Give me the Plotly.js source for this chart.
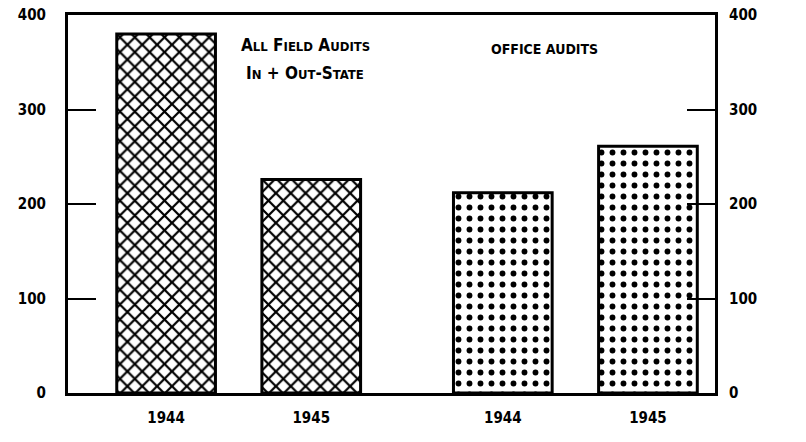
<!DOCTYPE html>
<html>
<head>
<meta charset="utf-8">
<script src="https://cdn.plot.ly/plotly-3.0.1.min.js"></script>
<style>html,body{margin:0;padding:0;background:#fff;}#chart{width:806px;height:442px;}</style>
</head>
<body>
<div id="chart"></div>
<script>
// Data
const groups = ["All Field Audits", "All Field Audits", "Office Audits", "Office Audits"];
const years = ["1944", "1945", "1944", "1945"];
const audits = [380, 226, 212, 261];
const yTicks = [0, 100, 200, 300, 400];

const FONT = "'DejaVu Sans Condensed', 'DejaVu Sans', sans-serif";
const groupGap = 0.32;
const xPos = years.map((y, i) => i + (i >= 2 ? groupGap : 0));

const field = {x: [], y: []}, office = {x: [], y: []};
groups.forEach((g, i) => {
  const t = g === "Office Audits" ? office : field;
  t.x.push(xPos[i]); t.y.push(audits[i]);
});

const traces = [
  {type: 'bar', x: field.x, y: field.y, width: 0.68,
   marker: {color: 'white', line: {color: 'black', width: 3},
            pattern: {shape: 'x', size: 10.5, solidity: 0.38, fgcolor: 'black', bgcolor: 'white', fillmode: 'replace'}},
   hoverinfo: 'skip', showlegend: false},
  {type: 'bar', x: office.x, y: office.y, width: 0.68,
   marker: {color: 'white', line: {color: 'black', width: 3},
            pattern: {shape: '.', size: 11, solidity: 0.22, fgcolor: 'black', bgcolor: 'white', fillmode: 'replace'}},
   hoverinfo: 'skip', showlegend: false},
  {type: 'scatter', x: [xPos[0]], y: [0], yaxis: 'y2', mode: 'markers',
   marker: {opacity: 0}, hoverinfo: 'skip', showlegend: false}
];

const axisFont = {family: FONT, size: 15, color: 'black', weight: 'bold'};
const layout = {
  width: 806, height: 442,
  margin: {l: 68, r: 91, t: 15, b: 49},
  paper_bgcolor: 'white', plot_bgcolor: 'white',
  showlegend: false,
  bargap: 0,
  xaxis: {
    range: [-0.676, 3.782],
    tickvals: xPos, ticktext: years,
    showgrid: false, zeroline: false,
    showline: true, linecolor: 'black', linewidth: 3, mirror: true,
    ticks: '', tickfont: axisFont, ticklabelstandoff: 9
  },
  yaxis: {
    range: [0, 400], tickvals: yTicks,
    showgrid: false, zeroline: false,
    showline: true, linecolor: 'black', linewidth: 3,
    ticks: 'inside', ticklen: 28, tickwidth: 2, tickcolor: 'black',
    tickfont: axisFont, ticklabelstandoff: 16
  },
  yaxis2: {
    range: [0, 400], tickvals: yTicks, overlaying: 'y', side: 'right',
    showgrid: false, zeroline: false,
    showline: true, linecolor: 'black', linewidth: 3,
    ticks: 'inside', ticklen: 28, tickwidth: 2, tickcolor: 'black',
    tickfont: axisFont, ticklabelstandoff: 8
  },
  annotations: [
    {x: 0.96, y: 368, xref: 'x', yref: 'y', showarrow: false,
     text: "A<span style='font-size:13px'>LL</span> F<span style='font-size:13px'>IELD</span> A<span style='font-size:13px'>UDITS</span>",
     font: {family: FONT, size: 17, color: 'black', weight: 'bold'}},
    {x: 0.96, y: 339, xref: 'x', yref: 'y', showarrow: false,
     text: "I<span style='font-size:13px'>N</span> + O<span style='font-size:13px'>UT</span>-S<span style='font-size:13px'>TATE</span>",
     font: {family: FONT, size: 17, color: 'black', weight: 'bold'}},
    {x: 2.61, y: 364, xref: 'x', yref: 'y', showarrow: false,
     text: "OFFICE AUDITS",
     font: {family: FONT, size: 14, color: 'black', weight: 'bold'}}
  ]
};

Plotly.newPlot('chart', traces, layout, {staticPlot: true, displayModeBar: false});
</script>
</body>
</html>
